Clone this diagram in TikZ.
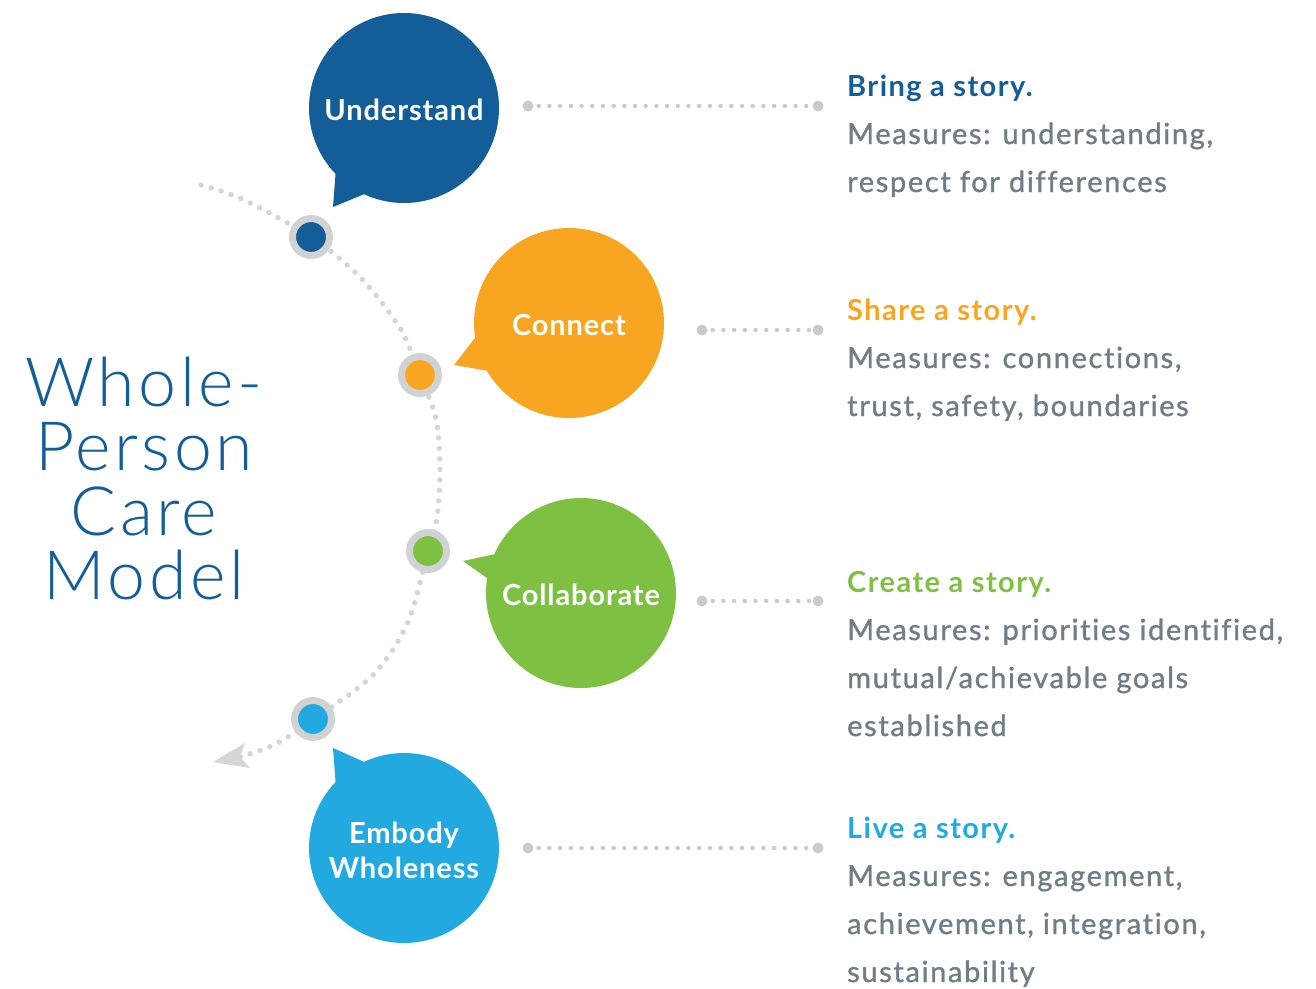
\documentclass[tikz,border=0pt]{standalone}
\usepackage{fontspec}
\setmainfont{Lato}[Ligatures=NoCommon]
\newfontfamily\titlefont{Lato Light}[LetterSpace=5, Ligatures=NoCommon]
\newfontfamily\bodyfont{Lato}[LetterSpace=5.7, FakeBold=1.2, Ligatures=NoCommon]
\newfontfamily\headfont{Lato}[LetterSpace=5, Ligatures=NoCommon]
\newfontfamily\bubblefont{Lato}[LetterSpace=3, Ligatures=NoCommon]
\usetikzlibrary{arrows.meta}

\definecolor{ublue}{HTML}{135D98}
\definecolor{corange}{HTML}{F8A521}
\definecolor{cgreen}{HTML}{7EC142}
\definecolor{ecyan}{HTML}{21A9E0}
\definecolor{txtgray}{HTML}{707D89}
\definecolor{ringgray}{HTML}{D1D2D4}
\definecolor{pathgray}{HTML}{D5D6D8}
\definecolor{linkgray}{HTML}{C6CCD1}

\tikzset{
  bubble/.style={circle, minimum size=190pt, inner sep=0pt, text=white,
    font=\bubblefont\bfseries\fontsize{29}{35}\selectfont, align=center},
  marker/.style={circle, minimum size=37pt, inner sep=0pt, draw=ringgray, line width=7pt},
  enddot/.style={circle, fill=linkgray, minimum size=11pt, inner sep=0pt},
  linkdots/.style={draw=linkgray, line width=4.5pt, line cap=round, dash pattern=on 0pt off 10.7pt},
  pathdots/.style={draw=pathgray, line width=5.5pt, line cap=round, dash pattern=on 0pt off 10.5pt},
  heading/.style={anchor=base west, inner sep=0pt, font=\headfont\bfseries\fontsize{29}{35}\selectfont},
  measure/.style={anchor=base west, inner sep=0pt, text=txtgray, font=\bodyfont\fontsize{29}{35}\selectfont},
  titleline/.style={anchor=base, inner sep=0pt, text=ublue, font=\titlefont\fontsize{68}{64}\selectfont},
}

\begin{document}
\begin{tikzpicture}[x=1pt, y=-1pt]
\useasboundingbox (0,0) rectangle (1316,988);

% curved dotted timeline with its arrowhead
\coordinate (pathstart) at (201,185);
\coordinate (pathend) at (240,757);
\draw[pathdots] plot[smooth, tension=0.5] coordinates {
  (pathstart) (242,199) (311,237) (360,277) (400,328) (420,375) (436,419)
  (440,468) (437,517) (428,551) (408,622) (373,675) (314,719) (276,744) (pathend)};
\fill[pathgray] (pathend) -- (245,743) -- (213,762) -- (250,768) -- cycle;

% markers on the timeline
\node[marker, fill=ublue]   (m1) at (311,237) {};
\node[marker, fill=corange] (m2) at (420,375) {};
\node[marker, fill=cgreen]  (m3) at (428,551) {};
\node[marker, fill=ecyan]   (m4) at (313,719) {};

% speech bubbles
\node[bubble, fill=ublue]   (b1) at (404,108) {};
\fill[ublue] (b1.224) -- (333,207) -- (b1.245) -- (b1.center) -- cycle;
\node[bubble] at ([yshift=-2pt]b1.center) {Understand};

\node[bubble, fill=corange] (b2) at (569,323) {};
\fill[corange] (b2.189) -- (454,365) -- (b2.210) -- (b2.center) -- cycle;
\node[bubble] at ([yshift=-2pt]b2.center) {Connect};

\node[bubble, fill=cgreen]  (b3) at (581,593) {};
\fill[cgreen] (b3.156) -- (463,561) -- (b3.171) -- (b3.center) -- cycle;
\node[bubble] at ([yshift=-2pt]b3.center) {Collaborate};

\node[bubble, fill=ecyan]   (b4) at (404,848) {};
\fill[ecyan] (b4.136) -- (333,748) -- (b4.115) -- (b4.center) -- cycle;
\node[bubble] at ([yshift=-2pt]b4.center) {Embody\\Wholeness};

% dotted links to the descriptions
\node[enddot] (l1a) at (528,106) {};
\node[enddot] (l1b) at (818,106) {};
\draw[linkdots] (l1a.center) -- (l1b.center);
\node[enddot] (l2a) at (702,330) {};
\node[enddot] (l2b) at (818,330) {};
\draw[linkdots] (l2a.center) -- (l2b.center);
\node[enddot] (l3a) at (702,601) {};
\node[enddot] (l3b) at (818,601) {};
\draw[linkdots] (l3a.center) -- (l3b.center);
\node[enddot] (l4a) at (528,848) {};
\node[enddot] (l4b) at (818,848) {};
\draw[linkdots] (l4a.center) -- (l4b.center);

% descriptions
\node[heading, text=ublue] (h1) at (847,96) {Bring a story.};
\node[measure] (h1a) at (847,144) {Measures: understanding,};
\node[measure] (h1b) at (847,192) {respect for differences};

\node[heading, text=corange] (h2) at (847,320) {Share a story.};
\node[measure] (h2a) at (847,368) {Measures: connections,};
\node[measure] (h2b) at (847,416) {trust, safety, boundaries};

\node[heading, text=cgreen] (h3) at (847,592) {Create a story.};
\node[measure] (h3a) at (847,640) {Measures: priorities identified,};
\node[measure] (h3b) at (847,688) {mutual/achievable goals};
\node[measure] (h3c) at (847,736) {established};

\node[heading, text=ecyan] (h4) at (847,838) {Live a story.};
\node[measure] (h4a) at (847,886) {Measures: engagement,};
\node[measure] (h4b) at (847,934) {achievement, integration,};
\node[measure] (h4c) at (847,982) {sustainability};

% title
\node[titleline] (t1) at (144,406) {Whole-};
\node[titleline] (t2) at (144,470) {Person};
\node[titleline] (t3) at (144,535) {Care};
\node[titleline] (t4) at (144,599) {Model};
\end{tikzpicture}
\end{document}
